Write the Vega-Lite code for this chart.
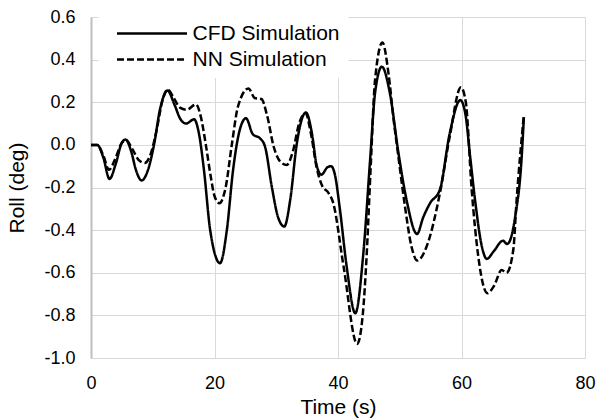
{
  "$schema": "https://vega.github.io/schema/vega-lite/v6.json",
  "width": 494,
  "height": 341,
  "autosize": "none",
  "padding": {"left": 91, "top": 17, "right": 13, "bottom": 60},
  "background": "white",
  "config": {
    "view": {"stroke": null},
    "font": "Liberation Sans",
    "axis": {
      "labelFont": "Liberation Sans",
      "titleFont": "Liberation Sans",
      "labelFontSize": 18,
      "titleFontSize": 21,
      "titleFontWeight": "normal",
      "labelColor": "#000000",
      "titleColor": "#000000",
      "gridColor": "#d9d9d9",
      "gridWidth": 1,
      "ticks": false,
      "labelFlush": false,
      "labelOverlap": false
    }
  },
  "datasets": {
    "roll": [
      {"t": 0, "v": 0, "series": "CFD Simulation"},
      {"t": 1, "v": 0.0, "series": "CFD Simulation"},
      {"t": 2, "v": -0.06, "series": "CFD Simulation"},
      {"t": 3, "v": -0.16, "series": "CFD Simulation"},
      {"t": 4, "v": -0.09, "series": "CFD Simulation"},
      {"t": 5, "v": 0.01, "series": "CFD Simulation"},
      {"t": 5.6, "v": 0.025, "series": "CFD Simulation"},
      {"t": 6.5, "v": -0.03, "series": "CFD Simulation"},
      {"t": 7.3, "v": -0.12, "series": "CFD Simulation"},
      {"t": 8.2, "v": -0.167, "series": "CFD Simulation"},
      {"t": 9.2, "v": -0.12, "series": "CFD Simulation"},
      {"t": 10.2, "v": 0.0, "series": "CFD Simulation"},
      {"t": 11.2, "v": 0.17, "series": "CFD Simulation"},
      {"t": 12.4, "v": 0.255, "series": "CFD Simulation"},
      {"t": 13.5, "v": 0.19, "series": "CFD Simulation"},
      {"t": 14.5, "v": 0.12, "series": "CFD Simulation"},
      {"t": 15.4, "v": 0.10, "series": "CFD Simulation"},
      {"t": 16.7, "v": 0.12, "series": "CFD Simulation"},
      {"t": 17.5, "v": 0.05, "series": "CFD Simulation"},
      {"t": 18.3, "v": -0.12, "series": "CFD Simulation"},
      {"t": 19.3, "v": -0.40, "series": "CFD Simulation"},
      {"t": 20.9, "v": -0.555, "series": "CFD Simulation"},
      {"t": 22, "v": -0.4, "series": "CFD Simulation"},
      {"t": 23, "v": -0.12, "series": "CFD Simulation"},
      {"t": 24, "v": 0.06, "series": "CFD Simulation"},
      {"t": 25.1, "v": 0.125, "series": "CFD Simulation"},
      {"t": 26.2, "v": 0.05, "series": "CFD Simulation"},
      {"t": 27.4, "v": 0.03, "series": "CFD Simulation"},
      {"t": 28.2, "v": -0.01, "series": "CFD Simulation"},
      {"t": 29.3, "v": -0.2, "series": "CFD Simulation"},
      {"t": 30.3, "v": -0.34, "series": "CFD Simulation"},
      {"t": 31.3, "v": -0.383, "series": "CFD Simulation"},
      {"t": 32.3, "v": -0.25, "series": "CFD Simulation"},
      {"t": 33.3, "v": 0.0, "series": "CFD Simulation"},
      {"t": 34.8, "v": 0.152, "series": "CFD Simulation"},
      {"t": 35.8, "v": 0.05, "series": "CFD Simulation"},
      {"t": 36.5, "v": -0.09, "series": "CFD Simulation"},
      {"t": 37.3, "v": -0.14, "series": "CFD Simulation"},
      {"t": 38.3, "v": -0.105, "series": "CFD Simulation"},
      {"t": 38.9, "v": -0.1, "series": "CFD Simulation"},
      {"t": 39.5, "v": -0.14, "series": "CFD Simulation"},
      {"t": 40.3, "v": -0.3, "series": "CFD Simulation"},
      {"t": 41.4, "v": -0.57, "series": "CFD Simulation"},
      {"t": 42.8, "v": -0.79, "series": "CFD Simulation"},
      {"t": 44.1, "v": -0.51, "series": "CFD Simulation"},
      {"t": 45.2, "v": -0.07, "series": "CFD Simulation"},
      {"t": 46.0, "v": 0.243, "series": "CFD Simulation"},
      {"t": 47.1, "v": 0.367, "series": "CFD Simulation"},
      {"t": 48.4, "v": 0.243, "series": "CFD Simulation"},
      {"t": 49.8, "v": -0.04, "series": "CFD Simulation"},
      {"t": 51.1, "v": -0.258, "series": "CFD Simulation"},
      {"t": 52.8, "v": -0.418, "series": "CFD Simulation"},
      {"t": 53.8, "v": -0.34, "series": "CFD Simulation"},
      {"t": 54.9, "v": -0.274, "series": "CFD Simulation"},
      {"t": 56.5, "v": -0.21, "series": "CFD Simulation"},
      {"t": 58.1, "v": 0.055, "series": "CFD Simulation"},
      {"t": 59.8, "v": 0.21, "series": "CFD Simulation"},
      {"t": 60.6, "v": 0.15, "series": "CFD Simulation"},
      {"t": 61.4, "v": -0.055, "series": "CFD Simulation"},
      {"t": 62.2, "v": -0.26, "series": "CFD Simulation"},
      {"t": 63.3, "v": -0.477, "series": "CFD Simulation"},
      {"t": 64.1, "v": -0.535, "series": "CFD Simulation"},
      {"t": 65.2, "v": -0.5, "series": "CFD Simulation"},
      {"t": 66.7, "v": -0.45, "series": "CFD Simulation"},
      {"t": 67.4, "v": -0.465, "series": "CFD Simulation"},
      {"t": 68.7, "v": -0.336, "series": "CFD Simulation"},
      {"t": 69.75, "v": -0.055, "series": "CFD Simulation"},
      {"t": 70.1, "v": 0.13, "series": "CFD Simulation"},
      {"t": 0, "v": 0, "series": "NN Simulation"},
      {"t": 1, "v": 0, "series": "NN Simulation"},
      {"t": 2, "v": -0.05, "series": "NN Simulation"},
      {"t": 2.9, "v": -0.117, "series": "NN Simulation"},
      {"t": 4, "v": -0.06, "series": "NN Simulation"},
      {"t": 5, "v": 0.01, "series": "NN Simulation"},
      {"t": 5.7, "v": 0.022, "series": "NN Simulation"},
      {"t": 6.7, "v": -0.02, "series": "NN Simulation"},
      {"t": 7.7, "v": -0.07, "series": "NN Simulation"},
      {"t": 8.7, "v": -0.085, "series": "NN Simulation"},
      {"t": 9.7, "v": -0.04, "series": "NN Simulation"},
      {"t": 10.7, "v": 0.08, "series": "NN Simulation"},
      {"t": 11.5, "v": 0.2, "series": "NN Simulation"},
      {"t": 12.4, "v": 0.26, "series": "NN Simulation"},
      {"t": 13.4, "v": 0.22, "series": "NN Simulation"},
      {"t": 14.4, "v": 0.175, "series": "NN Simulation"},
      {"t": 15.5, "v": 0.165, "series": "NN Simulation"},
      {"t": 17, "v": 0.19, "series": "NN Simulation"},
      {"t": 17.8, "v": 0.13, "series": "NN Simulation"},
      {"t": 18.6, "v": 0.0, "series": "NN Simulation"},
      {"t": 19.4, "v": -0.15, "series": "NN Simulation"},
      {"t": 20.0, "v": -0.24, "series": "NN Simulation"},
      {"t": 20.8, "v": -0.274, "series": "NN Simulation"},
      {"t": 21.8, "v": -0.2, "series": "NN Simulation"},
      {"t": 22.8, "v": 0.0, "series": "NN Simulation"},
      {"t": 23.8, "v": 0.18, "series": "NN Simulation"},
      {"t": 25.5, "v": 0.265, "series": "NN Simulation"},
      {"t": 26.5, "v": 0.22, "series": "NN Simulation"},
      {"t": 27.6, "v": 0.215, "series": "NN Simulation"},
      {"t": 28.5, "v": 0.14, "series": "NN Simulation"},
      {"t": 29.6, "v": -0.01, "series": "NN Simulation"},
      {"t": 30.7, "v": -0.08, "series": "NN Simulation"},
      {"t": 31.7, "v": -0.094, "series": "NN Simulation"},
      {"t": 32.7, "v": -0.03, "series": "NN Simulation"},
      {"t": 33.7, "v": 0.1, "series": "NN Simulation"},
      {"t": 34.7, "v": 0.149, "series": "NN Simulation"},
      {"t": 35.7, "v": 0.04, "series": "NN Simulation"},
      {"t": 36.5, "v": -0.1, "series": "NN Simulation"},
      {"t": 37.4, "v": -0.19, "series": "NN Simulation"},
      {"t": 38.5, "v": -0.227, "series": "NN Simulation"},
      {"t": 39.2, "v": -0.27, "series": "NN Simulation"},
      {"t": 40.9, "v": -0.57, "series": "NN Simulation"},
      {"t": 43.1, "v": -0.934, "series": "NN Simulation"},
      {"t": 44.0, "v": -0.8, "series": "NN Simulation"},
      {"t": 44.6, "v": -0.54, "series": "NN Simulation"},
      {"t": 45.3, "v": -0.1, "series": "NN Simulation"},
      {"t": 46.0, "v": 0.305, "series": "NN Simulation"},
      {"t": 47.2, "v": 0.48, "series": "NN Simulation"},
      {"t": 48.2, "v": 0.33, "series": "NN Simulation"},
      {"t": 49.0, "v": 0.12, "series": "NN Simulation"},
      {"t": 49.8, "v": -0.06, "series": "NN Simulation"},
      {"t": 50.85, "v": -0.29, "series": "NN Simulation"},
      {"t": 51.9, "v": -0.477, "series": "NN Simulation"},
      {"t": 52.85, "v": -0.543, "series": "NN Simulation"},
      {"t": 54.35, "v": -0.477, "series": "NN Simulation"},
      {"t": 56.5, "v": -0.227, "series": "NN Simulation"},
      {"t": 58.1, "v": 0.04, "series": "NN Simulation"},
      {"t": 59.9, "v": 0.27, "series": "NN Simulation"},
      {"t": 60.7, "v": 0.2, "series": "NN Simulation"},
      {"t": 61.65, "v": -0.21, "series": "NN Simulation"},
      {"t": 62.7, "v": -0.52, "series": "NN Simulation"},
      {"t": 64.2, "v": -0.696, "series": "NN Simulation"},
      {"t": 65.3, "v": -0.66, "series": "NN Simulation"},
      {"t": 66.5, "v": -0.587, "series": "NN Simulation"},
      {"t": 67.3, "v": -0.6, "series": "NN Simulation"},
      {"t": 68.4, "v": -0.49, "series": "NN Simulation"},
      {"t": 68.9, "v": -0.27, "series": "NN Simulation"},
      {"t": 70.1, "v": 0.14, "series": "NN Simulation"}
    ]
  },
  "layer": [
    {
      "mark": {"type": "rule", "color": "#bfbfbf", "strokeWidth": 2},
      "encoding": {
        "y": {"datum": 0, "type": "quantitative", "scale": {"domain": [-1, 0.6]}}
      }
    },
    {
      "data": {"name": "roll"},
      "mark": {"type": "line", "interpolate": "monotone", "color": "#000000", "strokeWidth": 2.5},
      "encoding": {
        "x": {
          "field": "t", "type": "quantitative",
          "scale": {"domain": [0, 80], "nice": false, "zero": false},
          "axis": {
            "title": "Time (s)",
            "values": [0, 20, 40, 60, 80],
            "domain": false,
            "labelPadding": 16,
            "titlePadding": 4,
            "grid": true
          }
        },
        "y": {
          "field": "v", "type": "quantitative",
          "scale": {"domain": [-1, 0.6], "nice": false, "zero": false},
          "axis": {
            "title": "Roll (deg)",
            "values": [-1, -0.8, -0.6, -0.4, -0.2, 0, 0.2, 0.4, 0.6],
            "labelExpr": "replace(format(datum.value, '.1f'), '\u2212', '-')",
            "domain": true,
            "domainColor": "#bfbfbf",
            "domainWidth": 2,
            "labelPadding": 16,
            "titlePadding": 16,
            "grid": true
          }
        },
        "strokeDash": {
          "field": "series", "type": "nominal",
          "scale": {"domain": ["CFD Simulation", "NN Simulation"], "range": [[1, 0], [7, 3]]},
          "legend": {
            "title": null,
            "orient": "none",
            "legendX": 7.5,
            "legendY": -2,
            "fillColor": "white",
            "padding": 8,
            "rowPadding": 4,
            "labelFont": "Liberation Sans",
            "labelFontSize": 21,
            "labelColor": "#000000",
            "symbolType": "M0,0H14",
            "symbolSize": 100,
            "symbolStrokeWidth": 2.5,
            "symbolStrokeColor": "#000000",
            "labelOffset": 65
          }
        }
      }
    }
  ]
}
